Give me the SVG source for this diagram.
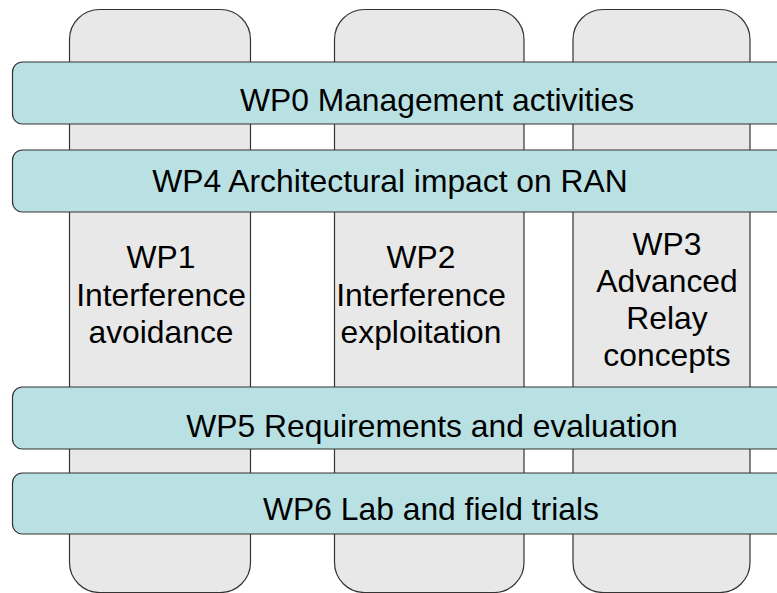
<svg xmlns="http://www.w3.org/2000/svg" width="777" height="593" viewBox="0 0 777 593">
<style>
.col{fill:#e8e8e8;stroke:#333;stroke-width:1.2}
.band{fill:#b9e0e3;stroke:#333;stroke-width:1.2}
text{font-family:"Liberation Sans",Arial,sans-serif;font-size:31.8px;fill:#000;text-anchor:middle}
</style>
<rect width="777" height="593" fill="#fff"/>
<g id="wp1">
<rect class="col" x="69.5" y="9.5" width="181" height="583" rx="30" ry="30"/>
<text x="161" y="268">WP1</text>
<text x="161" y="306">Interference</text>
<text x="161" y="343">avoidance</text>
</g>
<g id="wp2">
<rect class="col" x="334.5" y="9.5" width="189.5" height="583" rx="30" ry="30"/>
<text x="421" y="268">WP2</text>
<text x="421" y="306">Interference</text>
<text x="421" y="343">exploitation</text>
</g>
<g id="wp3">
<rect class="col" x="573" y="9.5" width="177" height="583" rx="30" ry="30"/>
<text x="667" y="255">WP3</text>
<text x="667" y="292">Advanced</text>
<text x="667" y="329">Relay</text>
<text x="667" y="366">concepts</text>
</g>
<g id="wp0">
<rect class="band" x="12.5" y="62" width="800" height="62" rx="10" ry="10"/>
<text x="437" y="111">WP0 Management activities</text>
</g>
<g id="wp4">
<rect class="band" x="12.5" y="150" width="800" height="62" rx="10" ry="10"/>
<text x="390" y="192">WP4 Architectural impact on RAN</text>
</g>
<g id="wp5">
<rect class="band" x="12.5" y="387" width="800" height="62" rx="10" ry="10"/>
<text x="432" y="437">WP5 Requirements and evaluation</text>
</g>
<g id="wp6">
<rect class="band" x="12.5" y="473" width="800" height="61" rx="10" ry="10"/>
<text x="431" y="520">WP6 Lab and field trials</text>
</g>
<g id="connectors"/>
</svg>
